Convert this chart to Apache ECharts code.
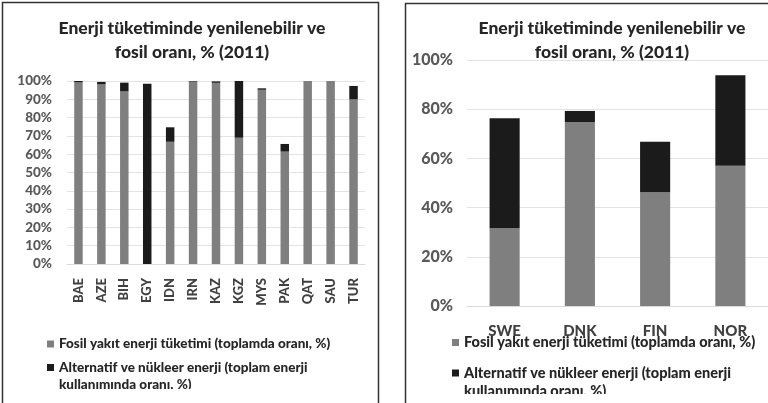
<!DOCTYPE html>
<html><head><meta charset="utf-8">
<script src="https://cdn.jsdelivr.net/npm/echarts@6/dist/echarts.min.js"></script>
<style>html,body{margin:0;padding:0;background:#fff}#c{width:768px;height:403px}</style>
</head><body><div id="c"></div>
<script>
var titleText = 'Enerji tüketiminde yenilenebilir ve\nfosil oranı, % (2011)';
var fosilName = 'Fosil yakıt enerji tüketimi (toplamda oranı, %)';
var altName = 'Alternatif ve nükleer enerji (toplam enerji\nkullanımında oranı, %)';

var leftCategories = ['BAE','AZE','BIH','EGY','IDN','IRN','KAZ','KGZ','MYS','PAK','QAT','SAU','TUR'];
var leftFosil = [99.2, 98.2, 94.3, 0, 66.8, 99.7, 99.0, 69.0, 95.2, 61.4, 100, 100, 90.0];
var leftAlt   = [0.8, 1.3, 4.8, 98.5, 7.9, 0.3, 0.8, 31.0, 0.8, 4.2, 0, 0, 7.3];

var rightCategories = ['SWE','DNK','FIN','NOR'];
var rightFosil = [31.6, 74.7, 46.2, 57.0];
var rightAlt   = [44.7, 4.6, 20.6, 36.8];

var FONT = 'Lato, "Open Sans", sans-serif';
var GRAY = '#7f7f7f', DARK = '#1b1b1b';
var W = 900;

function altFormatter() { return ' \n' + altName; }

var chart = echarts.init(document.getElementById('c'));
chart.setOption({
  animation: false,
  backgroundColor: '#fff',
  textStyle: {fontFamily: FONT},
  title: [
    {text: titleText, left: 187, top: 11, textAlign: 'center',
     textStyle: {fontFamily: FONT, fontSize: 17.5, fontWeight: W, color: '#262626', lineHeight: 24}},
    {text: titleText, left: 607, top: 11, textAlign: 'center',
     textStyle: {fontFamily: FONT, fontSize: 17.5, fontWeight: W, color: '#262626', lineHeight: 24}}
  ],
  grid: [
    {left: 67, top: 81, width: 298, height: 183, containLabel: false},
    {left: 467, top: 60, width: 317, height: 246, containLabel: false}
  ],
  xAxis: [
    {type: 'category', gridIndex: 0, data: leftCategories,
     axisLine: {lineStyle: {color: '#d9d9d9'}}, axisTick: {show: false},
     axisLabel: {rotate: 90, margin: 14, fontSize: 13, fontWeight: W, color: '#404040', fontFamily: FONT}},
    {type: 'category', gridIndex: 1, data: rightCategories,
     axisLine: {lineStyle: {color: '#d9d9d9'}}, axisTick: {show: false},
     axisLabel: {margin: 18, fontSize: 15, fontWeight: W, color: '#404040', fontFamily: FONT}}
  ],
  yAxis: [
    {type: 'value', gridIndex: 0, min: 0, max: 100, interval: 10,
     axisLine: {show: false}, axisTick: {show: false},
     splitLine: {lineStyle: {color: '#e3e3e3'}},
     axisLabel: {formatter: '{value}%', margin: 15, fontSize: 13.5, fontWeight: W, color: '#595959', fontFamily: FONT}},
    {type: 'value', gridIndex: 1, min: 0, max: 100, interval: 20,
     axisLine: {show: false}, axisTick: {show: false},
     splitLine: {lineStyle: {color: '#e3e3e3'}},
     axisLabel: {formatter: '{value}%', margin: 14, fontSize: 16, fontWeight: W, color: '#595959', fontFamily: FONT}}
  ],
  legend: [
    {data: [fosilName], left: 42, top: 332, icon: 'rect', itemWidth: 7, itemHeight: 7,
     textStyle: {fontFamily: FONT, fontSize: 13.5, fontWeight: W, color: '#262626'}},
    {data: [altName], left: 42, top: 337, icon: 'rect', itemWidth: 7, itemHeight: 7,
     formatter: altFormatter,
     textStyle: {fontFamily: FONT, fontSize: 13.5, fontWeight: W, color: '#262626', lineHeight: 17}},
    {data: [fosilName], left: 447, top: 330, icon: 'rect', itemWidth: 7, itemHeight: 7,
     textStyle: {fontFamily: FONT, fontSize: 14.5, fontWeight: W, color: '#262626'}},
    {data: [altName], left: 447, top: 341, icon: 'rect', itemWidth: 7, itemHeight: 7,
     formatter: altFormatter,
     textStyle: {fontFamily: FONT, fontSize: 14.5, fontWeight: W, color: '#262626', lineHeight: 18}}
  ],
  series: [
    {name: fosilName, type: 'bar', stack: 'L', xAxisIndex: 0, yAxisIndex: 0, data: leftFosil, barWidth: '37%', itemStyle: {color: GRAY}},
    {name: altName, type: 'bar', stack: 'L', xAxisIndex: 0, yAxisIndex: 0, data: leftAlt, barWidth: '37%', itemStyle: {color: DARK}},
    {name: fosilName, type: 'bar', stack: 'R', xAxisIndex: 1, yAxisIndex: 1, data: rightFosil, barWidth: '40%', itemStyle: {color: GRAY}},
    {name: altName, type: 'bar', stack: 'R', xAxisIndex: 1, yAxisIndex: 1, data: rightAlt, barWidth: '40%', itemStyle: {color: DARK}}
  ],
  graphic: [
    {type: 'rect', z: 100, shape: {x: 4, y: 389, width: 373, height: 20}, style: {fill: '#fff'}},
    {type: 'rect', z: 100, shape: {x: 407, y: 394, width: 370, height: 20}, style: {fill: '#fff'}},
    {type: 'rect', z: 101, shape: {x: 2.5, y: 2.5, width: 376, height: 420}, style: {fill: 'none', stroke: '#333', lineWidth: 1.5}},
    {type: 'rect', z: 101, shape: {x: 405.5, y: 3.5, width: 420, height: 420}, style: {fill: 'none', stroke: '#333', lineWidth: 1.5}}
  ]
});
</script></body></html>
